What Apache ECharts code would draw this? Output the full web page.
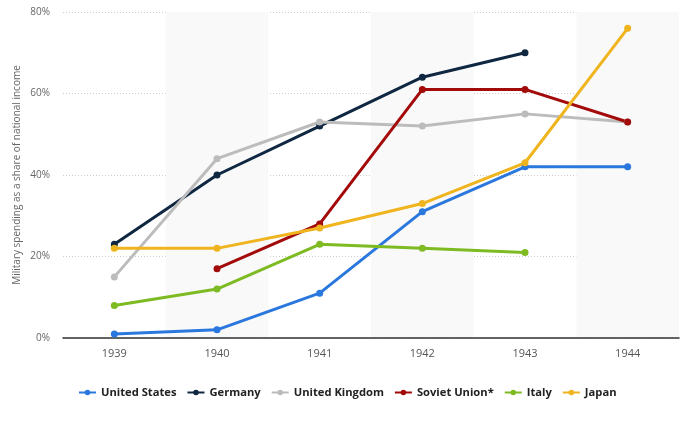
<!DOCTYPE html>
<html><head><meta charset="utf-8">
<script src="https://cdn.jsdelivr.net/npm/echarts@6/dist/echarts.min.js"></script>
<style>html,body{margin:0;padding:0;background:#fff}#c{width:690px;height:426px}</style>
</head><body><div id="c"></div>
<script>
const years = ['1939','1940','1941','1942','1943','1944'];
const unitedStates = [1, 2, 11, 31, 42, 42];
const germany = [23, 40, 52, 64, 70, null];
const unitedKingdom = [15, 44, 53, 52, 55, 53];
const sovietUnion = [null, 17, 28, 61, 61, 53];
const italy = [8, 12, 23, 22, 21, null];
const japan = [22, 22, 27, 33, 43, 76];
const yTicks = [0, 20, 40, 60, 80];

const names = ['United States','Germany','United Kingdom','Soviet Union*','Italy','Japan'];
const colors = ['#2a78dd','#0f2741','#bcbcbc','#a30b0b','#7ebb22','#efb41e'];
const datas = [unitedStates, germany, unitedKingdom, sovietUnion, italy, japan];

const chart = echarts.init(document.getElementById('c'));
chart.setOption({
  animation: false,
  grid: {left: 63, right: 11, top: 12, bottom: 88},
  legend: {
    bottom: 23, left: 73, itemGap: 10, itemWidth: 17, itemHeight: 7,
    textStyle: {fontFamily: 'Open Sans', fontWeight: 'bold', fontSize: 11.2, color: '#222'},
    data: names
  },
  xAxis: {
    type: 'category', data: years, boundaryGap: true,
    axisLine: {lineStyle: {color: '#333', width: 1.5}},
    axisTick: {show: false},
    axisLabel: {color: '#555', fontSize: 11, fontFamily: 'Open Sans', margin: 10},
    splitArea: {show: true, areaStyle: {color: ['rgba(255,255,255,0)', '#f9f9f9']}}
  },
  yAxis: {
    type: 'value', min: 0, max: 80, interval: 20,
    name: 'Military spending as a share of national income',
    nameLocation: 'middle', nameGap: 41, nameRotate: 90, nameMoveOverlap: false,
    nameTextStyle: {color: '#666', fontSize: 10, fontFamily: 'Open Sans'},
    axisLine: {show: false}, axisTick: {show: false},
    axisLabel: {color: '#666', fontSize: 10, fontFamily: 'Open Sans', margin: 13,
      formatter: v => yTicks.includes(v) ? v + '%' : ''},
    splitLine: {lineStyle: {color: '#ccc', type: [1, 2], width: 1}}
  },
  series: names.map((n, i) => ({
    name: n, type: 'line', data: datas[i],
    symbol: 'circle', symbolSize: 7,
    lineStyle: {width: 3, color: colors[i]},
    itemStyle: {color: colors[i]},
    connectNulls: false
  }))
});
</script></body></html>
